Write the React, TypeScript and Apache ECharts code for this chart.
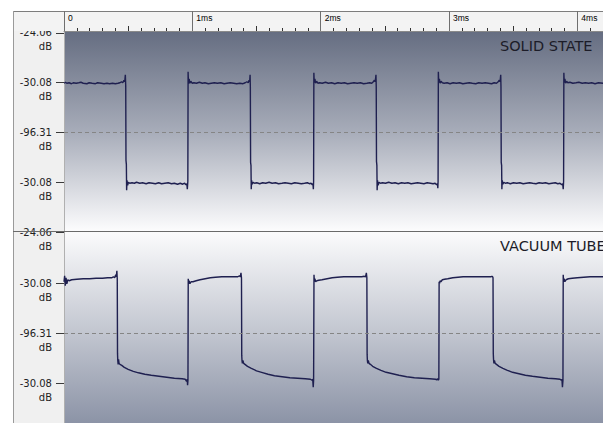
import React, { useEffect, useRef } from "react";
import * as echarts from "echarts";

// ---------- data ----------
const panelTitles = ["SOLID STATE", "VACUUM TUBE"];
const timeRangeMs = [0, 4.2];
const rulerLabelValues = [0, 1, 2, 3, 4];
const ampTickValues = [1, 0.5, 0, -0.5, -1];
const ampTickLabels = ["-24.06", "-30.08", "-96.31", "-30.08", "-24.06"];
const ampUnit = "dB";
// ticks shown in the lower panel (its top tick is shared with the upper panel's bottom one)
const lowerPanelTickValues = [0.5, 0, -0.5];

// [time in ms, amplitude] — solid state amplifier square wave
const solidStateWave: [number, number][] = [
  [0.000, 0.495], [0.012, 0.505], [0.022, 0.495], [0.040, 0.50], [0.058, 0.49], [0.072, 0.50], [0.095, 0.495],
  [0.115, 0.50], [0.132, 0.505], [0.150, 0.495], [0.178, 0.49], [0.196, 0.50], [0.220, 0.495], [0.245, 0.49],
  [0.262, 0.50], [0.290, 0.495], [0.312, 0.49], [0.335, 0.495], [0.355, 0.49], [0.378, 0.495], [0.400, 0.49],
  [0.420, 0.495], [0.436, 0.50], [0.448, 0.51], [0.458, 0.50], [0.467, 0.525], [0.473, 0.51], [0.478, 0.58],
  [0.481, 0.47],
  [0.483, -0.28], [0.486, -0.32], [0.488, -0.58], [0.491, -0.48], [0.496, -0.53], [0.502, -0.50], [0.512, -0.51],
  [0.530, -0.505], [0.548, -0.51], [0.565, -0.50], [0.590, -0.51], [0.612, -0.505], [0.640, -0.515], [0.662, -0.505],
  [0.690, -0.51], [0.712, -0.515], [0.738, -0.505], [0.760, -0.515], [0.785, -0.51], [0.812, -0.505], [0.838, -0.515],
  [0.860, -0.51], [0.885, -0.52], [0.906, -0.51], [0.925, -0.52], [0.940, -0.51], [0.950, -0.525], [0.957, -0.515],
  [0.961, -0.57], [0.965, -0.49],
  [0.967, 0.61], [0.970, 0.49], [0.975, 0.54], [0.981, 0.495], [0.988, 0.515], [0.998, 0.495],
  [1.012, 0.50], [1.032, 0.495], [1.055, 0.505], [1.078, 0.495], [1.098, 0.50], [1.125, 0.49], [1.148, 0.495],
  [1.172, 0.50], [1.195, 0.495], [1.222, 0.50], [1.248, 0.49], [1.270, 0.495], [1.295, 0.50], [1.322, 0.495],
  [1.345, 0.49], [1.370, 0.495], [1.395, 0.49], [1.412, 0.50], [1.425, 0.51], [1.436, 0.50], [1.442, 0.525],
  [1.447, 0.51], [1.450, 0.58], [1.452, 0.46],
  [1.454, -0.30], [1.457, -0.33], [1.459, -0.57], [1.462, -0.48], [1.467, -0.52], [1.474, -0.50], [1.485, -0.51],
  [1.502, -0.505], [1.525, -0.515], [1.548, -0.505], [1.572, -0.51], [1.598, -0.50], [1.622, -0.51], [1.648, -0.505],
  [1.672, -0.515], [1.698, -0.51], [1.722, -0.505], [1.748, -0.51], [1.772, -0.515], [1.798, -0.505], [1.825, -0.51],
  [1.850, -0.515], [1.874, -0.51], [1.896, -0.505], [1.912, -0.515], [1.925, -0.51], [1.935, -0.525], [1.940, -0.515],
  [1.943, -0.57], [1.945, -0.49],
  [1.947, 0.60], [1.950, 0.50], [1.955, 0.54], [1.961, 0.495], [1.968, 0.515], [1.978, 0.495],
  [1.992, 0.50], [2.012, 0.495], [2.038, 0.505], [2.060, 0.495], [2.085, 0.50], [2.110, 0.49], [2.135, 0.50],
  [2.160, 0.495], [2.185, 0.50], [2.210, 0.49], [2.235, 0.495], [2.260, 0.50], [2.285, 0.495], [2.310, 0.50],
  [2.335, 0.49], [2.360, 0.495], [2.382, 0.50], [2.398, 0.495], [2.410, 0.51], [2.419, 0.525], [2.425, 0.51],
  [2.431, 0.58], [2.433, 0.46],
  [2.435, -0.29], [2.438, -0.33], [2.440, -0.58], [2.443, -0.48], [2.448, -0.53], [2.455, -0.50], [2.466, -0.51],
  [2.482, -0.505], [2.505, -0.51], [2.530, -0.50], [2.555, -0.51], [2.580, -0.505], [2.605, -0.515], [2.630, -0.505],
  [2.655, -0.51], [2.680, -0.505], [2.705, -0.515], [2.730, -0.51], [2.755, -0.505], [2.780, -0.51], [2.805, -0.515],
  [2.830, -0.505], [2.855, -0.51], [2.876, -0.515], [2.892, -0.51], [2.903, -0.525], [2.910, -0.515], [2.913, -0.56],
  [2.915, -0.49],
  [2.917, 0.61], [2.920, 0.50], [2.925, 0.54], [2.931, 0.495], [2.938, 0.515], [2.948, 0.50],
  [2.962, 0.495], [2.985, 0.50], [3.008, 0.49], [3.032, 0.50], [3.058, 0.495], [3.082, 0.50], [3.108, 0.49],
  [3.132, 0.495], [3.158, 0.50], [3.182, 0.495], [3.208, 0.49], [3.232, 0.50], [3.258, 0.495], [3.282, 0.50],
  [3.308, 0.495], [3.332, 0.49], [3.352, 0.50], [3.370, 0.495], [3.383, 0.51], [3.392, 0.525], [3.398, 0.51],
  [3.403, 0.58], [3.405, 0.46],
  [3.407, -0.30], [3.410, -0.33], [3.412, -0.57], [3.415, -0.48], [3.420, -0.52], [3.427, -0.50], [3.438, -0.51],
  [3.455, -0.505], [3.478, -0.515], [3.502, -0.505], [3.528, -0.51], [3.552, -0.505], [3.578, -0.515], [3.602, -0.51],
  [3.628, -0.505], [3.652, -0.51], [3.678, -0.515], [3.702, -0.505], [3.728, -0.51], [3.752, -0.505], [3.778, -0.515],
  [3.802, -0.51], [3.828, -0.505], [3.848, -0.515], [3.865, -0.51], [3.878, -0.525], [3.886, -0.515], [3.890, -0.57],
  [3.893, -0.49],
  [3.895, 0.60], [3.898, 0.50], [3.903, 0.54], [3.909, 0.495], [3.916, 0.515], [3.926, 0.50],
  [3.942, 0.505], [3.965, 0.495], [3.990, 0.50], [4.012, 0.505], [4.038, 0.495], [4.062, 0.50], [4.088, 0.495],
  [4.112, 0.50], [4.138, 0.49], [4.165, 0.50], [4.200, 0.495],
];

// [time in ms, amplitude] — vacuum tube amplifier square wave
const vacuumTubeWave: [number, number][] = [
  [0.000, 0.52], [0.005, 0.58], [0.010, 0.48], [0.016, 0.56], [0.022, 0.50], [0.030, 0.54], [0.040, 0.53],
  [0.060, 0.54], [0.100, 0.545], [0.150, 0.55], [0.200, 0.55], [0.250, 0.555], [0.300, 0.555], [0.340, 0.56],
  [0.370, 0.56], [0.385, 0.57], [0.395, 0.56], [0.403, 0.59], [0.408, 0.57], [0.412, 0.63], [0.415, 0.55],
  [0.417, -0.20], [0.419, -0.27], [0.422, -0.31], [0.425, -0.26], [0.429, -0.30], [0.436, -0.31],
  [0.450, -0.32], [0.470, -0.34], [0.500, -0.36], [0.540, -0.38], [0.580, -0.395], [0.630, -0.41], [0.680, -0.42],
  [0.740, -0.43], [0.800, -0.44], [0.860, -0.45], [0.920, -0.455], [0.945, -0.46], [0.955, -0.48], [0.960, -0.46],
  [0.963, -0.52], [0.966, -0.47],
  [0.968, 0.55], [0.971, 0.50], [0.975, 0.53], [0.981, 0.50], [0.990, 0.52], [1.005, 0.52], [1.030, 0.53],
  [1.060, 0.54], [1.100, 0.55], [1.140, 0.56], [1.180, 0.565], [1.230, 0.57], [1.280, 0.57], [1.330, 0.57],
  [1.355, 0.57], [1.367, 0.58], [1.374, 0.57], [1.379, 0.61], [1.383, 0.56],
  [1.385, -0.22], [1.387, -0.27], [1.390, -0.30], [1.394, -0.27], [1.400, -0.30], [1.410, -0.31],
  [1.430, -0.33], [1.460, -0.35], [1.500, -0.375], [1.540, -0.39], [1.590, -0.41], [1.640, -0.425], [1.700, -0.435],
  [1.760, -0.445], [1.820, -0.45], [1.880, -0.455], [1.920, -0.46], [1.932, -0.47], [1.938, -0.46], [1.942, -0.54],
  [1.945, -0.47],
  [1.948, 0.59], [1.951, 0.52], [1.955, 0.55], [1.961, 0.52], [1.970, 0.53], [1.985, 0.535], [2.010, 0.54],
  [2.050, 0.55], [2.090, 0.56], [2.130, 0.565], [2.180, 0.57], [2.230, 0.57], [2.280, 0.57], [2.320, 0.57],
  [2.340, 0.575], [2.350, 0.57], [2.356, 0.61], [2.360, 0.56],
  [2.362, -0.21], [2.364, -0.27], [2.367, -0.30], [2.371, -0.27], [2.377, -0.30], [2.387, -0.31],
  [2.405, -0.33], [2.435, -0.35], [2.470, -0.37], [2.510, -0.39], [2.560, -0.405], [2.610, -0.42], [2.670, -0.435],
  [2.730, -0.445], [2.790, -0.45], [2.850, -0.455], [2.895, -0.46], [2.905, -0.465], [2.912, -0.455], [2.917, -0.47],
  [2.921, -0.46],
  [2.923, 0.52], [2.926, 0.50], [2.930, 0.53], [2.937, 0.52], [2.948, 0.54], [2.965, 0.545], [2.990, 0.55],
  [3.030, 0.56], [3.070, 0.565], [3.110, 0.57], [3.160, 0.57], [3.210, 0.57], [3.260, 0.57], [3.300, 0.57],
  [3.325, 0.57], [3.335, 0.575], [3.340, 0.57], [3.343, 0.56],
  [3.345, -0.20], [3.347, -0.26], [3.350, -0.30], [3.354, -0.27], [3.360, -0.30], [3.370, -0.31],
  [3.390, -0.33], [3.420, -0.35], [3.455, -0.37], [3.495, -0.39], [3.545, -0.405], [3.595, -0.42], [3.650, -0.43],
  [3.710, -0.44], [3.770, -0.45], [3.830, -0.455], [3.865, -0.46], [3.875, -0.47], [3.880, -0.46], [3.884, -0.54],
  [3.888, -0.47],
  [3.890, 0.59], [3.893, 0.52], [3.897, 0.55], [3.903, 0.52], [3.912, 0.54], [3.930, 0.55], [3.960, 0.555],
  [4.000, 0.56], [4.050, 0.565], [4.100, 0.57], [4.150, 0.57], [4.200, 0.57],
];

// ---------- helpers ----------
const W = 603;
const H = 423;
const PLOT_LEFT = 64;
const PLOT_W = W - PLOT_LEFT;
const TOP_Y = 31;
const PANEL_H = 201;

function ampLabel(v: number): string {
  const i = ampTickValues.findIndex((t) => Math.abs(t - v) < 1e-6);
  if (i < 0) return "";
  return " \n" + ampTickLabels[i] + "\n" + ampUnit;
}

function rulerLabel(v: number): string {
  const i = rulerLabelValues.findIndex((t) => Math.abs(t - v) < 1e-6);
  if (i < 0) return "";
  const val = rulerLabelValues[i];
  return val === 0 ? "0" : val + "ms";
}

export default function App() {
  const ref = useRef<HTMLDivElement>(null);

  useEffect(() => {
    if (!ref.current) return;
    const chart = echarts.init(ref.current, undefined, { renderer: "svg" });

    const yAxisBase = (gridIndex: number, tickValues: number[]) => ({
      type: "value",
      gridIndex,
      min: -1,
      max: 1.02,
      interval: 0.5,
      axisLine: { show: true, onZero: false, lineStyle: { color: "#b0b0b0", width: 1 } },
      axisTick: {
        show: true,
        length: 8,
        customValues: tickValues,
        lineStyle: { color: "#3a3a3a", width: 1 },
      },
      axisLabel: {
        show: true,
        customValues: tickValues,
        margin: 12,
        fontFamily: "DejaVu Sans",
        fontSize: 10,
        lineHeight: 14,
        color: "#222",
        align: "right",
        formatter: (v: number) => ampLabel(v),
      },
      splitLine: { show: false },
    });

    const zeroLine = {
      silent: true,
      symbol: ["none", "none"],
      label: { show: false },
      lineStyle: { type: [4, 3], color: "#858585", width: 1 },
      data: [{ yAxis: 0 }],
    };

    const topGrad = new echarts.graphic.LinearGradient(0, 0, 0, 1, [
      { offset: 0, color: "#656d81" },
      { offset: 0.5, color: "#a7acb9" },
      { offset: 1, color: "#fdfdfe" },
    ]);
    const botGrad = new echarts.graphic.LinearGradient(0, 0, 0, 1, [
      { offset: 0, color: "#fbfbfc" },
      { offset: 0.5, color: "#c2c6d0" },
      { offset: 1, color: "#868ea2" },
    ]);

    const option: any = {
      animation: false,
      backgroundColor: "#ffffff",
      grid: [
        { left: PLOT_LEFT, top: TOP_Y, width: PLOT_W, height: PANEL_H, outerBoundsMode: "none", containLabel: false },
        { left: PLOT_LEFT, top: TOP_Y + PANEL_H, width: PLOT_W, height: PANEL_H, outerBoundsMode: "none", containLabel: false },
      ],
      title: panelTitles.map((t, i) => ({
        text: t,
        left: 500,
        top: i === 0 ? 37 : 237,
        padding: 0,
        textStyle: {
          fontFamily: "DejaVu Sans",
          fontSize: 14.5,
          fontWeight: "normal",
          color: "#1c1c28",
          lineHeight: 17,
        },
      })),
      xAxis: [
        {
          type: "value",
          gridIndex: 0,
          position: "top",
          min: timeRangeMs[0],
          max: timeRangeMs[1],
          interval: 0.1,
          z: 60,
          axisLine: { show: true, onZero: false, lineStyle: { color: "#8a8a8a", width: 1 } },
          axisTick: { show: true, length: 3, lineStyle: { color: "#333", width: 1 } },
          axisLabel: { show: false },
          splitLine: { show: false },
        },
        {
          type: "value",
          gridIndex: 0,
          position: "top",
          min: timeRangeMs[0],
          max: timeRangeMs[1],
          interval: 0.5,
          z: 61,
          axisLine: { show: false, onZero: false },
          axisTick: { show: true, length: 5, lineStyle: { color: "#333", width: 1 } },
          axisLabel: { show: false },
          splitLine: { show: false },
        },
        {
          type: "value",
          gridIndex: 0,
          position: "top",
          min: timeRangeMs[0],
          max: timeRangeMs[1],
          interval: 1,
          z: 62,
          axisLine: { show: false, onZero: false },
          axisTick: { show: true, length: 20, lineStyle: { color: "#6f6f6f", width: 1 } },
          axisLabel: {
            show: true,
            align: "left",
            verticalAlign: "middle",
            margin: 13,
            padding: [0, 0, 0, 4],
            fontFamily: "Liberation Sans",
            fontSize: 8.5,
            color: "#000",
            formatter: rulerLabel,
          },
          splitLine: { show: false },
        },
        {
          type: "value",
          gridIndex: 1,
          min: timeRangeMs[0],
          max: timeRangeMs[1],
          show: false,
          axisLine: { onZero: false },
        },
      ],
      yAxis: [yAxisBase(0, ampTickValues), yAxisBase(1, lowerPanelTickValues)],
      graphic: [
        {
          type: "rect",
          silent: true,
          z: -1,
          shape: { x: 13, y: TOP_Y, width: PLOT_LEFT - 13, height: H },
          style: { fill: "#f0f0f0" },
        },
        {
          type: "rect",
          silent: true,
          z: -1,
          shape: { x: PLOT_LEFT, y: TOP_Y, width: PLOT_W, height: PANEL_H },
          style: { fill: topGrad },
        },
        {
          type: "rect",
          silent: true,
          z: -1,
          shape: { x: PLOT_LEFT, y: TOP_Y + PANEL_H, width: PLOT_W, height: PANEL_H },
          style: { fill: botGrad },
        },
        {
          type: "rect",
          silent: true,
          z: 50,
          shape: { x: 13, y: 11, width: W - 13, height: TOP_Y - 11 },
          style: { fill: "#f3f3f3" },
        },
        {
          type: "line",
          silent: true,
          z: 51,
          shape: { x1: 13, y1: 11.5, x2: W, y2: 11.5 },
          style: { stroke: "#7d7d7d", lineWidth: 1 },
        },
        {
          type: "line",
          silent: true,
          z: 51,
          shape: { x1: 13.5, y1: 11, x2: 13.5, y2: H },
          style: { stroke: "#9a9a9a", lineWidth: 1 },
        },
        {
          type: "line",
          silent: true,
          z: 51,
          shape: { x1: 13, y1: TOP_Y + PANEL_H - 0.5, x2: W, y2: TOP_Y + PANEL_H - 0.5 },
          style: { stroke: "#6a6a6a", lineWidth: 1 },
        },
      ],
      series: [
        {
          name: panelTitles[0],
          type: "line",
          xAxisIndex: 0,
          yAxisIndex: 0,
          data: solidStateWave,
          showSymbol: false,
          symbol: "none",
          clip: true,
          lineStyle: { color: "#1f2050", width: 1.4 },
          markLine: zeroLine,
        },
        {
          name: panelTitles[1],
          type: "line",
          xAxisIndex: 3,
          yAxisIndex: 1,
          data: vacuumTubeWave,
          showSymbol: false,
          symbol: "none",
          clip: true,
          lineStyle: { color: "#1f2050", width: 1.4 },
          markLine: zeroLine,
        },
      ],
    };

    chart.setOption(option);
    return () => chart.dispose();
  }, []);

  return (
    <div
      ref={ref}
      style={{
        position: "fixed",
        left: 0,
        top: 0,
        width: W,
        height: H,
        overflow: "hidden",
        background: "#fff",
      }}
    />
  );
}
